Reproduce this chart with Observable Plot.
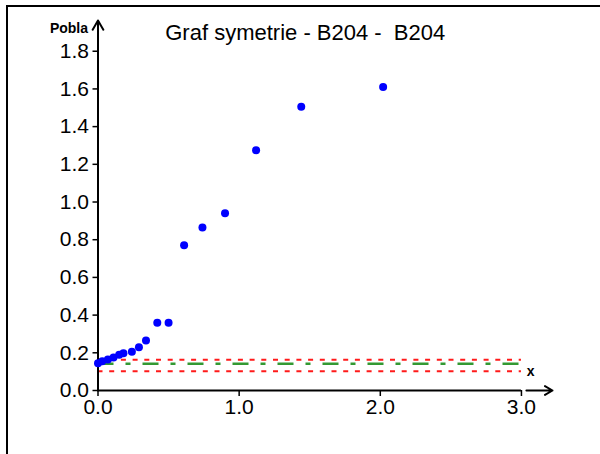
<!DOCTYPE html>
<html>
<head>
<meta charset="utf-8">
<script src="https://cdn.jsdelivr.net/npm/d3@7"></script>
<script src="https://cdn.jsdelivr.net/npm/@observablehq/plot@0.6"></script>
<style>
  html, body { margin: 0; padding: 0; background: #fff; }
  #wrap { position: relative; width: 600px; height: 454px; overflow: hidden; }
  #frame { position: absolute; left: 6px; top: 5px; right: -4px; bottom: -4px;
           border-top: 2px solid #000; border-left: 2px solid #000; pointer-events: none; }
</style>
</head>
<body>
<div id="wrap"><div id="frame"></div></div>
<script>
// ---- data ----
const titleText = "Graf symetrie - B204 -  B204";
const yLabel = "Pobla";
const xLabel = "x";
const xs = [0.0, 0.03, 0.07, 0.11, 0.15, 0.18, 0.24, 0.29, 0.34, 0.42, 0.50, 0.61, 0.74, 0.90, 1.12, 1.44, 2.02];
const ys = [0.145, 0.155, 0.165, 0.175, 0.19, 0.198, 0.205, 0.23, 0.265, 0.36, 0.36, 0.77, 0.865, 0.94, 1.275, 1.505, 1.61];
const xTicks = [0, 1, 2, 3];
const yTicks = [0, 0.2, 0.4, 0.6, 0.8, 1.0, 1.2, 1.4, 1.6, 1.8];
const lineMid = [0.142];          // green dash-dot
const lineLimits = [0.163, 0.102]; // red dashed
const lineExtent = [0, 3];
const xAxisEnd = 3;
const xArrow = [3.035, 3.22];
const yArrowEnd = 1.963;

const points = xs.map((x, i) => ({x, y: ys[i]}));

const chart = Plot.plot({
  width: 600,
  height: 454,
  marginLeft: 97.5,
  marginRight: 48,
  marginTop: 20,
  marginBottom: 64,
  style: {fontFamily: "'Liberation Sans', Arial, sans-serif", fontSize: "21px", color: "#000", background: "transparent"},
  x: {domain: [0, xArrow[1]]},
  y: {domain: [0, yArrowEnd]},
  marks: [
    // reference lines
    Plot.ruleY(lineLimits, {x1: lineExtent[0], x2: lineExtent[1], stroke: "#ff1a1a", strokeWidth: 2, strokeDasharray: "5,6.7"}),
    Plot.ruleY(lineMid, {x1: lineExtent[0], x2: lineExtent[1], stroke: "#339933", strokeWidth: 2.5, strokeDasharray: "16,12,5,12"}),
    // axes
    Plot.axisX({ticks: xTicks, tickFormat: d3.format(".1f"), tickSize: 6, tickPadding: 3, label: null, strokeWidth: 1.5}),
    Plot.axisY({ticks: yTicks, tickFormat: d3.format(".1f"), tickSize: 5, tickPadding: 4, label: null, strokeWidth: 1.5}),
    Plot.ruleY([0], {x1: 0, x2: xAxisEnd, stroke: "#000", strokeWidth: 2}),
    Plot.arrow([{x1: xArrow[0], x2: xArrow[1], y: 0}], {x1: "x1", x2: "x2", y1: "y", y2: "y", stroke: "#000", strokeWidth: 2, headLength: 9}),
    Plot.arrow([{x: 0, y1: 0, y2: yArrowEnd}], {x1: "x", x2: "x", y1: "y1", y2: "y2", stroke: "#000", strokeWidth: 2, headLength: 8}),
    // labels
    Plot.text([titleText], {frameAnchor: "top", dx: -20, dy: 4, fontSize: 22, fill: "#000"}),
    Plot.text([yLabel], {frameAnchor: "top-left", dx: -10, dy: 3, textAnchor: "end", fontSize: 14, fontWeight: "bold", fill: "#000"}),
    Plot.text([xLabel], {frameAnchor: "bottom-right", dx: -18, dy: -15, fontSize: 14, fontWeight: "bold", fill: "#000"}),
    // data
    Plot.dot(points, {x: "x", y: "y", r: 4, fill: "#0000ff", stroke: "none"})
  ]
});
chart.style.position = "absolute";
chart.style.left = "0";
chart.style.top = "0";
document.getElementById("wrap").appendChild(chart);
</script>
</body>
</html>
